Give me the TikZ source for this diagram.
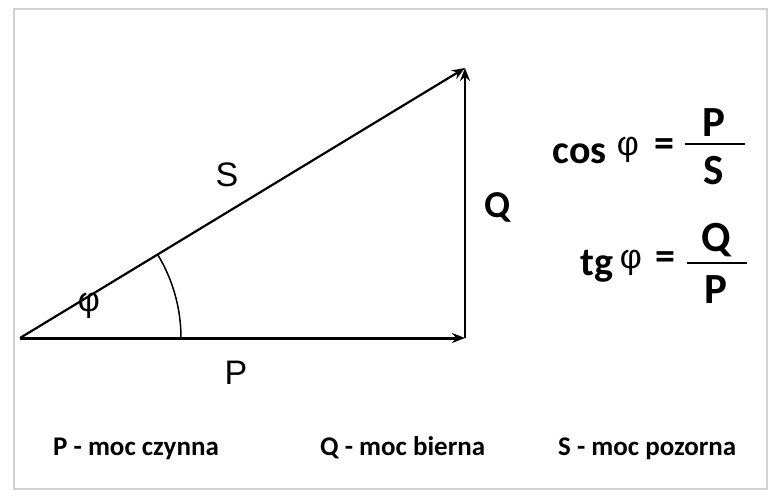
\documentclass[tikz,border=0pt]{standalone}
\usepackage{fontspec}
\setmainfont{Liberation Sans}
\newfontfamily\calib{Carlito}
\usetikzlibrary{arrows.meta}
\begin{document}
\begin{tikzpicture}[x=1pt,y=-1pt,
  vec/.style={line width=2.2pt,-{Stealth[length=13pt,width=10pt]}},
  lbl/.style={font=\fontsize{34}{34}\selectfont,inner sep=0pt},
  blbl/.style={font=\calib\bfseries\fontsize{38}{38}\selectfont,inner sep=0pt},
  leg/.style={font=\calib\bfseries\fontsize{27}{27}\selectfont,inner sep=0pt,anchor=base west},
  frm/.style={font=\calib\bfseries\fontsize{40}{40}\selectfont,inner sep=0pt},
  frac/.style={font=\calib\bfseries\fontsize{43}{43}\selectfont,inner sep=0pt},
  phi/.style={font=\fontsize{34}{34}\selectfont,inner sep=0pt}]
\useasboundingbox (0,0) rectangle (778,500);
\draw[color=black!18, line width=1.2pt] (14,9) rectangle (767,489);
\coordinate (O) at (20,338);
\coordinate (A) at (465,338);
\coordinate (B) at (465,68);
\draw[vec, line width=3pt] (O) -- (A);
\draw[vec] (A) -- (B);
\draw[vec] (O) -- (B);
\draw[line width=1.5pt] (181,338) arc[start angle=0, end angle=-31.25, radius=161];
\node[lbl] (S) at (227,175) {S};
\node[lbl] (P) at (236,373) {P};
\node[blbl] (Q) at (498,207) {Q};
\node[phi] (ph) at (89,306) {φ};
% formulas
\node[frm, anchor=base east] (cos) at (607,163) {cos};
\node[phi] (ph1) at (628,150) {φ};
\node[frm] (eq1) at (664,148) {=};
\draw[line width=2.4pt] (685,144) -- (745,144);
\node[frac, anchor=base] (p1) at (714,136) {P};
\node[frac, anchor=base] (s1) at (714,184) {S};
\node[frm, anchor=base east] (tg) at (614,275) {tg};
\node[phi] (ph2) at (631,263) {φ};
\node[frm] (eq2) at (665,261) {=};
\draw[line width=2.4pt] (687,263) -- (747,263);
\node[frac, anchor=base] (q2) at (716,251) {Q};
\node[frac, anchor=base] (p2) at (716,303) {P};
% legend
\node[leg] (l1) at (53,455) {P - moc czynna};
\node[leg] (l2) at (320,455) {Q - moc bierna};
\node[leg] (l3) at (558,455) {S - moc pozorna};
\end{tikzpicture}
\end{document}
